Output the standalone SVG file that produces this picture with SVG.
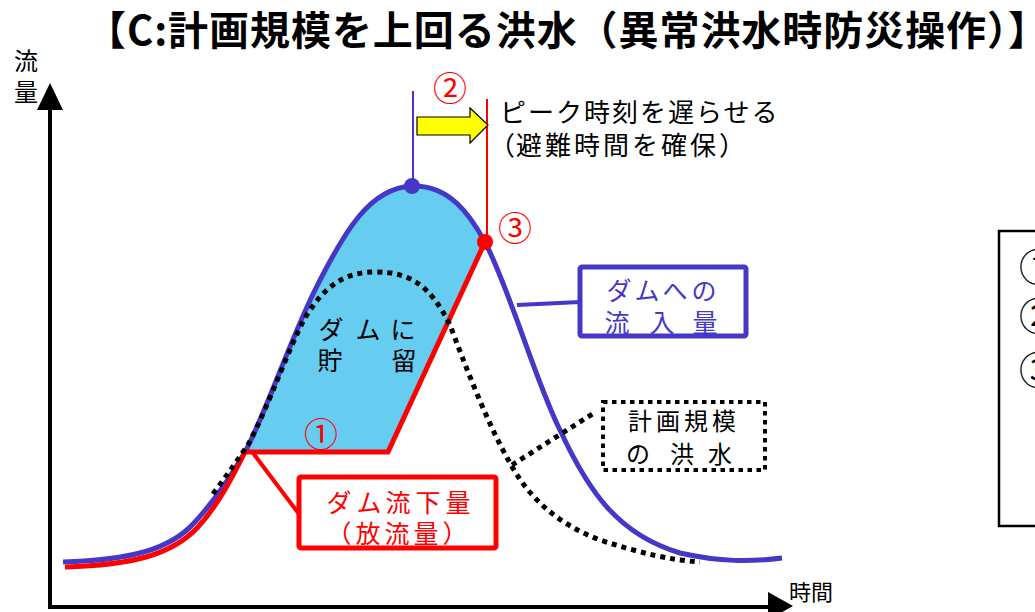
<svg xmlns="http://www.w3.org/2000/svg" width="1035" height="612" viewBox="0 0 1035 612">
<style>
text{font-family:"Noto Sans CJK JP","Noto Sans",sans-serif;}
.title{font-size:40px;font-weight:700;fill:#000;}
.lab{font-size:25px;}
.blk{fill:#000;}
.red{fill:#FF0000;}
.blu{fill:#4538C6;}
.circ{font-size:34px;fill:#FF0000;text-anchor:middle;}
.mid{text-anchor:middle;}
</style>
<rect width="1035" height="612" fill="#fff"/>
<g id="title"><text class="title" x="86" y="45" textLength="962" lengthAdjust="spacing">【C:計画規模を上回る洪水（異常洪水時防災操作）】</text></g>
<g id="axes">
<line x1="50" y1="105" x2="50" y2="609" stroke="#000" stroke-width="4"/>
<polygon points="50,83 63,110 37,110" fill="#000"/>
<line x1="48" y1="607" x2="770" y2="607" stroke="#000" stroke-width="4"/>
<polygon points="768,592 793,606 768,620" fill="#000"/>
<text class="blk" x="14" y="70" style="font-size:24px">流</text>
<text class="blk" x="14" y="101" style="font-size:24px">量</text>
<text class="blk" x="789" y="600" style="font-size:22px">時間</text>
</g>
<g id="storage">
<path d="M245,452 C265,415 290,340 315,290 C345,230 370,188 412,186 C450,185 470,215 485,242 L388,452 Z" fill="#66CCF0"/>
<text class="blk lab mid" x="331 368 403" y="339">ダムに</text>
<text class="blk lab mid" x="330 404" y="370">貯留</text>
</g>
<g id="connectors">
<path id="inflow" d="M63,562 C130,560 170,550 195,522 C215,500 230,478 245,452 C265,415 290,340 315,290 C345,230 370,188 412,186 C450,185 470,215 485,242 C510,290 535,380 560,430 C590,495 620,535 680,553 C720,562 750,562 782,558" fill="none" stroke="#4538C6" stroke-width="5"/>
<path id="outflow" d="M65,567 C132,565 172,555 198,527 C218,505 232,478 245,452 L388,452 L485,242" fill="none" stroke="#FF0000" stroke-width="5"/>
<path id="planned" d="M213,494 C226,476 238,460 249,443 C269,405 290,345 305,318 C325,285 345,272 375,272 C410,272 430,285 450,325 C465,365 488,425 510,463 C530,500 560,525 600,540 C640,553 670,560 700,562" fill="none" stroke="#000" stroke-width="5" stroke-dasharray="5 5"/>
<line x1="512" y1="465" x2="594" y2="413" stroke="#000" stroke-width="5" stroke-dasharray="5 5"/>
<line x1="517" y1="305" x2="580" y2="302" stroke="#4538C6" stroke-width="4"/>
<line x1="253" y1="453" x2="299" y2="514" stroke="#FF0000" stroke-width="4"/>
<line x1="413" y1="91" x2="413" y2="186" stroke="#4538C6" stroke-width="2"/>
<line x1="487" y1="99" x2="487" y2="242" stroke="#FF0000" stroke-width="2"/>
<circle cx="412" cy="186" r="8" fill="#4538C6"/>
<circle cx="485" cy="242" r="8" fill="#FF0000"/>
<polygon points="417,117 470,117 470,108 488,125 470,143 470,135 417,135" fill="#FFFF00" stroke="#000" stroke-width="1.2"/>
</g>
<g id="marks">
<text class="circ" x="321" y="447">①</text>
<text class="circ" x="450" y="101">②</text>
<text class="circ" x="515" y="241">③</text>
</g>
<g id="delay-label">
<text class="blk" x="500" y="122" style="font-size:26px;letter-spacing:2px">ピーク時刻を遅らせる</text>
<text class="blk" y="155" style="font-size:26px"><tspan x="489">（</tspan><tspan x="516" style="letter-spacing:3px">避難時間を確保）</tspan></text>
</g>
<g id="inflow-box">
<rect x="580" y="267" width="166" height="69" rx="2" fill="#fff" stroke="#4538C6" stroke-width="5"/>
<text class="blu lab mid" x="619 647 675 704" y="300">ダムへの</text>
<text class="blu lab mid" x="617 662 705" y="332">流入量</text>
</g>
<g id="outflow-box">
<rect x="299" y="477" width="197" height="71" rx="2" fill="#fff" stroke="#FF0000" stroke-width="5"/>
<text class="red lab mid" x="339 369 398 428 458" y="512">ダム流下量</text>
<text class="red lab mid" x="339 368 397 426 455" y="543">（放流量）</text>
</g>
<g id="planned-box">
<rect x="603" y="402" width="162" height="68" fill="#fff" stroke="#000" stroke-width="4" stroke-dasharray="4.5 4.5"/>
<text class="blk lab mid" x="640 668 696 724" y="430" style="font-size:24px">計画規模</text>
<text class="blk lab mid" x="638 682 720" y="463" style="font-size:24px">の洪水</text>
</g>
<g id="right-box">
<rect x="999" y="231" width="60" height="295" fill="#fff" stroke="#000" stroke-width="2.5"/>
<text class="blk mid" x="1038" y="281" style="font-size:38px">①</text>
<text class="blk mid" x="1038" y="330" style="font-size:38px">②</text>
<text class="blk mid" x="1038" y="384" style="font-size:38px">③</text>
</g>
</svg>
